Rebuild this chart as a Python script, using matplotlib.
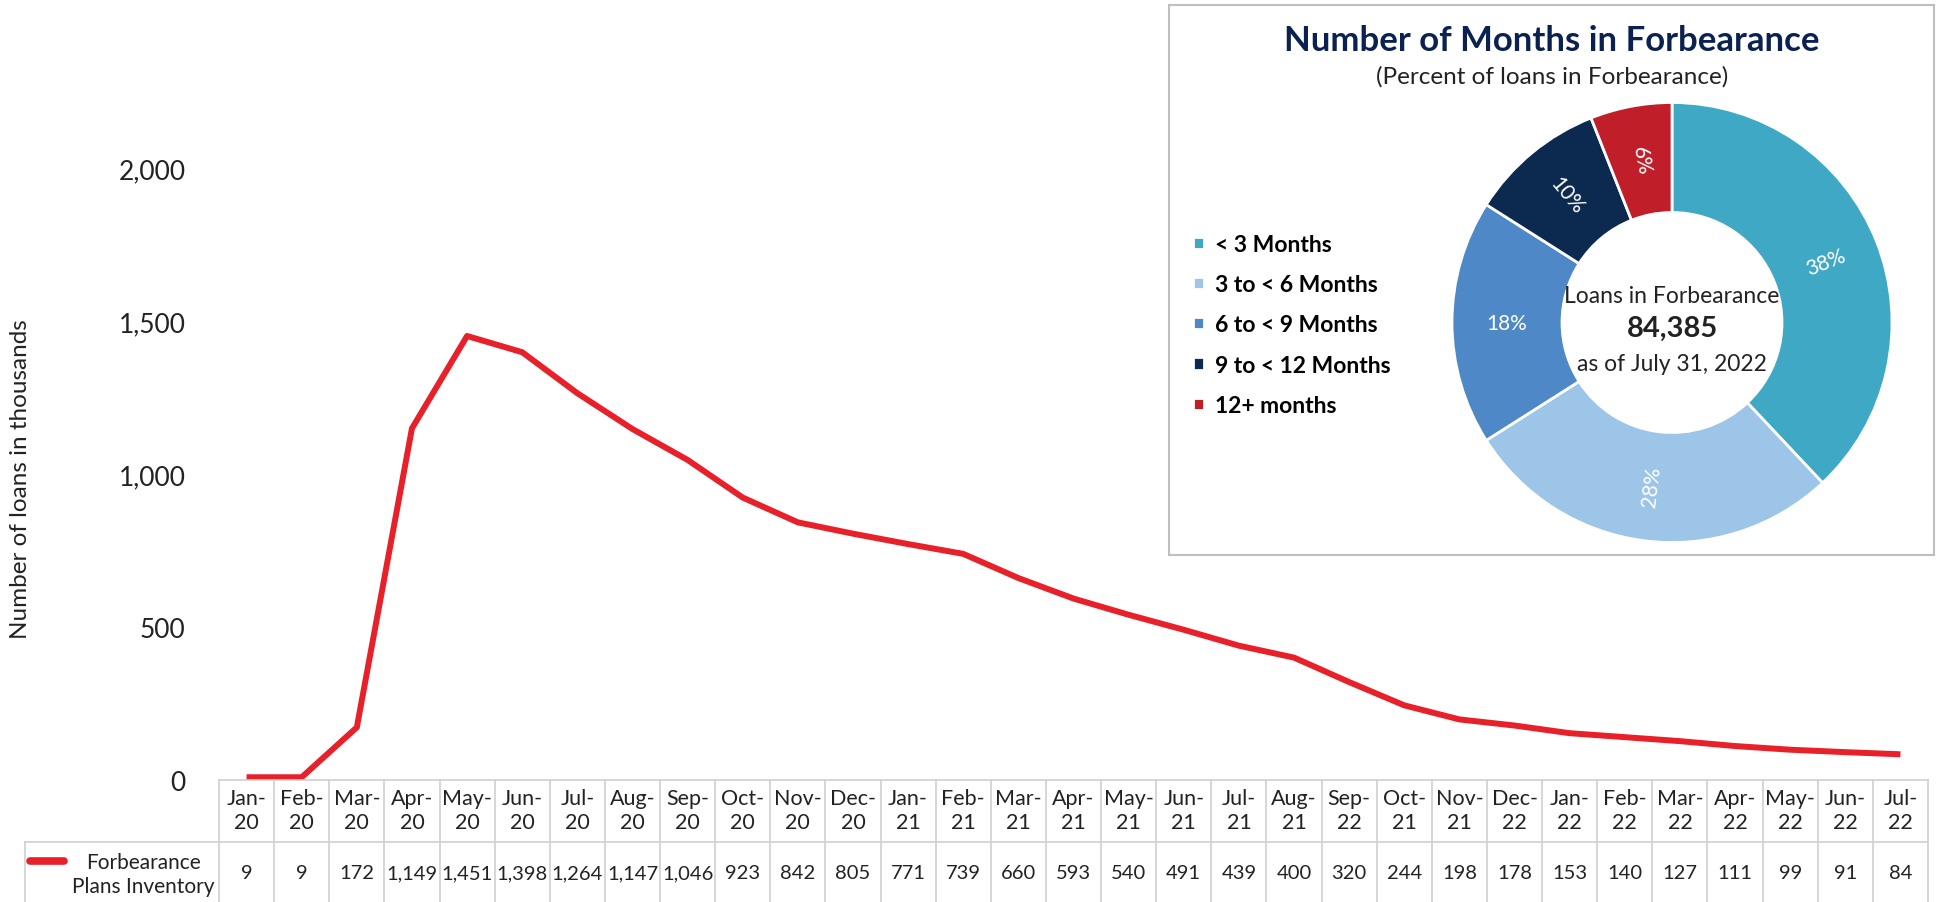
import math

import matplotlib
matplotlib.use("Agg")
import matplotlib.pyplot as plt
from matplotlib.lines import Line2D
from matplotlib.patches import Rectangle
import matplotlib.transforms as mtransforms

plt.rcParams['font.family'] = ['Lato', 'DejaVu Sans']

# line / table data
months = ["Jan-\n20", "Feb-\n20", "Mar-\n20", "Apr-\n20", "May-\n20", "Jun-\n20", "Jul-\n20",
          "Aug-\n20", "Sep-\n20", "Oct-\n20", "Nov-\n20", "Dec-\n20", "Jan-\n21", "Feb-\n21",
          "Mar-\n21", "Apr-\n21", "May-\n21", "Jun-\n21", "Jul-\n21", "Aug-\n21", "Sep-\n22",
          "Oct-\n21", "Nov-\n21", "Dec-\n22", "Jan-\n22", "Feb-\n22", "Mar-\n22", "Apr-\n22",
          "May-\n22", "Jun-\n22", "Jul-\n22"]
inventory = [9, 9, 172, 1149, 1451, 1398, 1264, 1147, 1046, 923, 842, 805, 771, 739, 660,
             593, 540, 491, 439, 400, 320, 244, 198, 178, 153, 140, 127, 111, 99, 91, 84]
series_name = "Forbearance\nPlans Inventory"
y_ticks = [0, 500, 1000, 1500, 2000]

# donut data
bucket_labels = ["< 3 Months", "3 to < 6 Months", "6 to < 9 Months", "9 to < 12 Months", "12+ months"]
bucket_pct = [38, 28, 18, 10, 6]
bucket_colors = ["#3fa9c5", "#9dc5e8", "#4e88c6", "#0c2a50", "#c01f2a"]

W, H = 1950, 903
fig = plt.figure(figsize=(W / 100, H / 100), dpi=100)


def fx(px):
    return px / W


def fy(py):
    return 1 - py / H


# main line chart
x_left, x_right, y_zero, y_top = 219, 1928, 781, 20
ax = fig.add_axes([fx(x_left), fy(y_zero), fx(x_right - x_left), (y_zero - y_top) / H])
x = list(range(len(inventory)))
ax.plot(x, inventory, color="#e8202a", linewidth=4.3, solid_capstyle="butt")
ax.set_xlim(-0.5, len(inventory) - 0.5)
ax.set_ylim(0, 2000 * (y_zero - y_top) / (y_zero - 169))
ax.set_yticks(y_ticks)
ax.set_yticklabels([f"{v:,}" for v in y_ticks], fontsize=19, color="#222222")
ax.tick_params(axis="y", length=0, pad=24)
ax.set_xticks([])
for s in ax.spines.values():
    s.set_visible(False)
ax.set_ylabel("Number of loans in thousands", fontsize=17.5, color="#222222")
ax.yaxis.label.set_va("center")
ax.yaxis.set_label_coords((21 - x_left) / (x_right - x_left), (y_zero - 479) / (y_zero - y_top))

# data table under the chart
grid_col = "#d0d0d0"
ax_h = y_zero - y_top
hdr_bot = -(843 - y_zero) / ax_h
tbl_bot = -(940 - y_zero) / ax_h
trans = mtransforms.blended_transform_factory(ax.transData, ax.transAxes)
n = len(inventory)
for i in range(n + 1):
    ax.add_line(Line2D([i - 0.5, i - 0.5], [0, tbl_bot], transform=trans, color=grid_col,
                       lw=1.2, clip_on=False))
for yy in (0, hdr_bot):
    ax.add_line(Line2D([-0.5, n - 0.5], [yy, yy], transform=trans, color=grid_col, lw=1.2, clip_on=False))
for i, (m, v) in enumerate(zip(months, inventory)):
    ax.text(i, -(811 - y_zero) / ax_h, m, transform=trans, ha="center", va="center", fontsize=15.5,
            linespacing=1.22, color="#222222", clip_on=False)
    ax.text(i, -(874 - y_zero) / ax_h, f"{v:,}", transform=trans, ha="center", va="center",
            fontsize=14.5, color="#222222", clip_on=False)

# legend cell of the table
fig.add_artist(Line2D([fx(25), fx(x_left)], [fy(843), fy(843)], color=grid_col, lw=1.2))
fig.add_artist(Line2D([fx(25), fx(25)], [fy(843), fy(940)], color=grid_col, lw=1.2))
fig.add_artist(Line2D([fx(30), fx(64)], [fy(862), fy(862)], color="#e8202a", lw=5.5,
                      solid_capstyle="round"))
fig.text(fx(143), fy(875), series_name, ha="center", va="center", fontsize=15,
         linespacing=1.25, color="#222222")

# inset panel
fig.add_artist(Rectangle((fx(1169), fy(556)), fx(1934 - 1169), (556 - 6) / H,
                         transform=fig.transFigure, facecolor="white", edgecolor="#bfbfbf", lw=1.5))
fig.text(fx(1552), fy(41), "Number of Months in Forbearance", ha="center", va="center",
         fontsize=25, fontweight="bold", color="#0b2150")
fig.text(fx(1552), fy(77), "(Percent of loans in Forbearance)", ha="center", va="center",
         fontsize=17.5, color="#222222")

cx, cy, r = 1672, 323.5, 220
pax = fig.add_axes([fx(cx - r), fy(cy + r), fx(2 * r), 2 * r / H])
pax.set_zorder(3)
wedges, _ = pax.pie(bucket_pct, colors=bucket_colors, startangle=90, counterclock=False,
                    wedgeprops=dict(width=0.5, edgecolor="white", linewidth=2))
pax.set_xlim(-1, 1)
pax.set_ylim(-1, 1)
pax.set_aspect("auto")
for w, p in zip(wedges, bucket_pct):
    mid = (w.theta1 + w.theta2) / 2
    rot = (mid + 180) % 360 - 180
    if rot > 90:
        rot -= 180
    elif rot < -90:
        rot += 180
    pax.text(0.75 * math.cos(math.radians(mid)), 0.75 * math.sin(math.radians(mid)), f"{p}%",
             rotation=rot, ha="center", va="center", rotation_mode="anchor",
             fontsize=15, color="white")

pax.text(0, 0.122, "Loans in Forbearance", ha="center", va="center", fontsize=16.5, color="#222222")
pax.text(0, -0.023, "84,385", ha="center", va="center", fontsize=21, fontweight="bold", color="#222222")
pax.text(0, -0.185, "as of July 31, 2022", ha="center", va="center", fontsize=16.5, color="#222222")

fig.legend(wedges, bucket_labels, loc="center left", bbox_to_anchor=(fx(1182), fy(326)),
           frameon=False, prop=dict(size=16.5, weight="bold"), handlelength=0.45, handleheight=0.45,
           handletextpad=0.5, labelspacing=0.84, borderpad=0)

fig.savefig("out.png", dpi=100)
